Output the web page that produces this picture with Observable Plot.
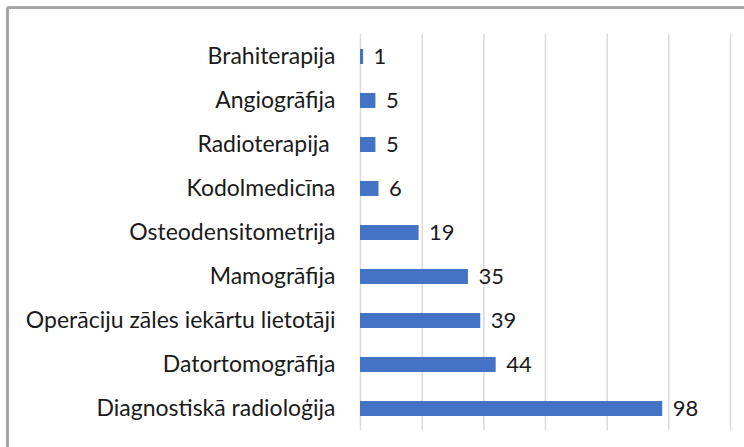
<!DOCTYPE html>
<html><head><meta charset="utf-8">
<script src="https://cdn.jsdelivr.net/npm/d3@7"></script>
<script src="https://cdn.jsdelivr.net/npm/@observablehq/plot@0.6"></script>
<style>
html,body{margin:0;padding:0;background:#fff;overflow:hidden;width:744px;height:447px;}
#frame{position:absolute;left:6px;top:6px;width:760px;height:460px;border:3px solid #a6a6a6;border-radius:3px;box-sizing:border-box;}
#chart{position:absolute;left:0;top:0;}
#chart svg text{white-space:pre;}
</style></head>
<body>
<div id="frame"></div>
<div id="chart"></div>
<script>
const categories = ["Brahiterapija","Angiogrāfija","Radioterapija ","Kodolmedicīna","Osteodensitometrija","Mamogrāfija","Operāciju zāles iekārtu lietotāji","Datortomogrāfija","Diagnostiskā radioloģija"];
const values = [1,5,5,6,19,35,39,44,98];
const gridTicks = [0,20,40,60,80,100,120];
const data = categories.map((c,i)=>({category:c, value:values[i]}));

const chart = Plot.plot({
  width: 744, height: 447,
  marginLeft: 360, marginRight: 14, marginTop: 34, marginBottom: 17,
  style: {fontFamily: "Lato, sans-serif", background: "transparent"},
  x: {domain: [0,120], axis: null},
  y: {domain: categories, paddingInner: 0.66, paddingOuter: 0.33, axis: null},
  marks: [
    Plot.ruleX(gridTicks, {stroke: "#d9d9d9", strokeWidth: 1.5}),
    Plot.barX(data, {x: "value", y: "category", fill: "#4472c4"}),
    Plot.text(data, {x: "value", y: "category", text: d => String(d.value), dx: 10, textAnchor: "start", fontSize: 22, fill: "#1a1a1a"}),
    Plot.text(data, {x: 0, y: "category", text: "category", dx: -25, textAnchor: "end", fontSize: 23, fill: "#1a1a1a"})
  ]
});
document.getElementById("chart").appendChild(chart);
</script>
</body></html>
